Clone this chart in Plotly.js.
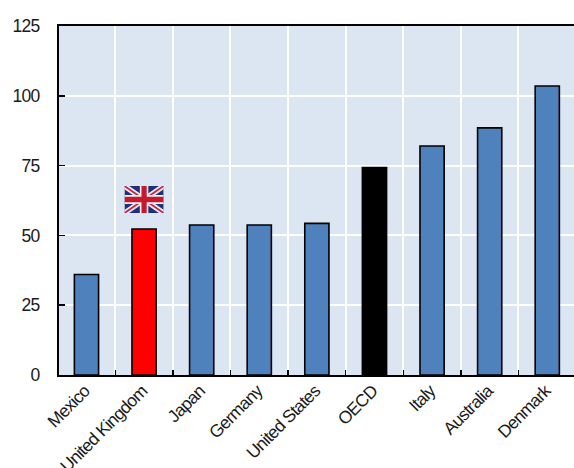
<!DOCTYPE html>
<html>
<head>
<meta charset="utf-8">
<script src="https://cdn.plot.ly/plotly-3.0.1.min.js"></script>
<style>html,body{margin:0;padding:0;background:#fff;overflow:hidden}#c{width:574px;height:468px}
.xtick text,.ytick text{letter-spacing:-0.75px}</style>
</head>
<body>
<div id="c"></div>
<script>
const categories = ["Mexico","United Kingdom","Japan","Germany","United States","OECD","Italy","Australia","Denmark"];
const values = [36, 52.3, 53.7, 53.7, 54.3, 74.3, 82, 88.5, 103.5];
const barColors = ["#4f81bd","#ff0000","#4f81bd","#4f81bd","#4f81bd","#000000","#4f81bd","#4f81bd","#4f81bd"];
const yTicks = [0,25,50,75,100,125];

const flagSvg = `<svg xmlns="http://www.w3.org/2000/svg" viewBox="0 0 60 40" width="60" height="40" preserveAspectRatio="none">
<rect width="60" height="40" fill="#1f2f78"/>
<path d="M0 0L60 40M60 0L0 40" stroke="#e8e8f0" stroke-width="8"/>
<path d="M0 0L60 40M60 0L0 40" stroke="#c8283c" stroke-width="2.6"/>
<path d="M30 0V40M0 20H60" stroke="#f2f2f6" stroke-width="13"/>
<path d="M30 0V40M0 20H60" stroke="#c8182c" stroke-width="8"/>
</svg>`;

const font = {family:'"Liberation Sans", Arial, sans-serif', size:17.5, color:'#1a1a1a'};

Plotly.newPlot('c', [{
  type:'bar',
  x:categories,
  y:values,
  width:0.42,
  marker:{color:barColors, line:{color:'#000', width:1.6}},
  hoverinfo:'skip'
}], {
  width:574, height:468,
  margin:{l:59, r:0, t:26, b:93, pad:0},
  paper_bgcolor:'#fff',
  plot_bgcolor:'#dce6f2',
  showlegend:false,
  bargap:0.58,
  font:font,
  xaxis:{
    type:'category',
    categories:categories,
    categoryorder:'array',
    categoryarray:categories,
    range:[-0.477,8.464],
    tickson:'boundaries',
    ticks:'inside', ticklen:5, tickwidth:1.5, tickcolor:'#000',
    showgrid:true, gridcolor:'#fff', gridwidth:2,
    showline:true, linecolor:'#000', linewidth:2, mirror:true,
    tickangle:-45,
    tickfont:font,
    ticklabelstandoff:-3,
    ticklabelshift:-2,
    automargin:false,
    zeroline:false
  },
  yaxis:{
    range:[0,125],
    tickvals:yTicks,
    ticktext:yTicks.map(String),
    ticks:'inside', ticklen:6, tickwidth:1.5, tickcolor:'#000',
    showgrid:true, gridcolor:'#fff', gridwidth:2,
    showline:true, linecolor:'#000', linewidth:2,
    tickfont:font,
    ticklabelstandoff:14,
    automargin:false,
    zeroline:false
  },
  images:[{
    source:'data:image/svg+xml;utf8,'+encodeURIComponent(flagSvg),
    xref:'x', yref:'y',
    x:1, y:67.7,
    sizex:0.68, sizey:9.7,
    xanchor:'center', yanchor:'top',
    sizing:'stretch', layer:'above'
  }]
}, {displayModeBar:false, staticPlot:true});
</script>
</body>
</html>
